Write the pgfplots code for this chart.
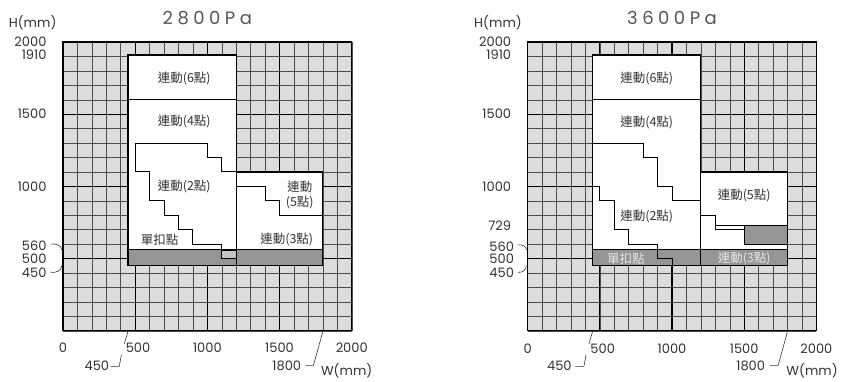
\documentclass[border=0pt]{standalone}
\usepackage{pgfplots}
\pgfplotsset{compat=1.18}
\usepackage{fontspec}
\setmainfont{Poppins}
\newfontfamily\cjk{Noto Sans CJK TC}
\definecolor{bggray}{HTML}{DCDCDC}
\definecolor{stripgray}{HTML}{959595}
\definecolor{boxgray}{HTML}{C4C4C4}
\definecolor{txt}{HTML}{333333}
\definecolor{ttl}{HTML}{555555}
\definecolor{lighttxt}{HTML}{E6E6E6}
\pgfplotsset{panel/.style={
  set layers=standard,
  axis on top=false,
  anchor=south west, width=289pt, height=289pt, scale only axis,
  xmin=0, xmax=2000, ymin=0, ymax=2000,
  xtick={0,500,...,2000}, ytick={0,500,...,2000},
  minor xtick={0,100,...,2000}, minor ytick={0,100,...,2000},
  grid=both,
  major grid style={draw=black, line width=1.25pt},
  minor grid style={draw=black!70, line width=0.45pt},
  xticklabels={}, yticklabels={},
  major tick length=0pt, minor tick length=0pt,
  axis background/.style={fill=bggray},
  axis line style={line width=1.1pt},
  clip=false,
}}
\tikzset{
  region/.style={fill=white, draw=black, line width=1.2pt},
  stepline/.style={draw=black, line width=0.9pt},
  num/.style={font=\fontsize{13}{15}\selectfont, text=txt},
  lab/.style={font=\cjk\fontsize{12.5}{15}\selectfont, text=txt},
  ttlst/.style={font=\addfontfeature{LetterSpace=25}\fontsize{18}{20}\selectfont, text=ttl},
  lead/.style={draw=txt, line width=0.6pt},
}
\begin{document}
\begin{tikzpicture}
\path (0,0) (841pt,381pt);
% ---------------- 2800 Pa ----------------
\begin{axis}[panel, at={(63pt,50pt)}]
\addplot[region] coordinates {(450,450) (1200,450) (1200,1910) (450,1910)} -- cycle;
\addplot[region] coordinates {(1200,450) (1800,450) (1800,1100) (1200,1100)} -- cycle;
\addplot[fill=stripgray, draw=black, line width=1.2pt] coordinates {(450,450) (1800,450) (1800,560) (450,560)} -- cycle;
\addplot[fill=boxgray, draw=black, line width=0.6pt] coordinates {(1100,500) (1200,500) (1200,560) (1100,560)} -- cycle;
\addplot[stepline] coordinates {(450,1600) (1200,1600)};
\addplot[stepline] coordinates {(500,1300) (1000,1300) (1000,1200) (1100,1200) (1100,1100) (1200,1100)};
\addplot[stepline] coordinates {(500,1300) (500,1100) (600,1100) (600,900) (700,900) (700,800) (800,800) (800,700) (900,700) (900,600) (1100,600) (1100,500) (1200,500)};
\addplot[stepline] coordinates {(1200,1000) (1400,1000) (1400,900) (1500,900) (1500,800) (1800,800)};
\addplot[draw=black, line width=1.2pt] coordinates {(1200,450) (1200,1910)};
\node[lab] at (axis cs:840,1750) {連動(6點)};
\node[lab] at (axis cs:840,1450) {連動(4點)};
\node[lab] at (axis cs:840,1000) {連動(2點)};
\node[lab] at (axis cs:670,630) {單扣點};
\node[lab] at (axis cs:1550,630) {連動(3點)};
\node[lab] at (axis cs:1640,1000) {連動};
\node[lab] at (axis cs:1640,885) {(5點)};
% y labels
\node[num, anchor=east] at (axis cs:-90,2005) {2000};
\node[num, anchor=east] at (axis cs:-90,1912) {1910};
\node[num, anchor=east] at (axis cs:-90,1500) {1500};
\node[num, anchor=east] at (axis cs:-90,1000) {1000};
\node[num, anchor=east] at (axis cs:-90,590) {560};
\node[num, anchor=east] at (axis cs:-90,500) {500};
\node[num, anchor=east] at (axis cs:-90,405) {450};
\draw[lead] (axis cs:-85,600) to[out=10,in=95] (axis cs:-8,560);
\draw[lead] (axis cs:-85,405) to[out=-10,in=-95] (axis cs:-8,450);
\node[num, anchor=south] at (axis cs:-210,2060) {H(mm)};
% x labels
\node[num] at (axis cs:0,-120) {0};
\node[num] at (axis cs:520,-120) {500};
\node[num] at (axis cs:1000,-120) {1000};
\node[num] at (axis cs:1500,-120) {1500};
\node[num] at (axis cs:2000,-120) {2000};
\node[num] at (axis cs:235,-245) {450};
\node[num] at (axis cs:1550,-245) {1800};
\node[num] at (axis cs:1965,-275) {W(mm)};
\draw[lead] (axis cs:450,-5) -- (axis cs:425,-90);
\draw[lead] (axis cs:405,-165) -- (axis cs:390,-247) -- (axis cs:330,-247);
\draw[lead] (axis cs:1800,-5) -- (axis cs:1735,-240) -- (axis cs:1680,-240);
\node[ttlst] at (axis cs:1000,2165) {2800Pa};
\end{axis}
% ---------------- 3600 Pa ----------------
\begin{axis}[panel, at={(528pt,50pt)}]
\addplot[region] coordinates {(450,450) (1200,450) (1200,1910) (450,1910)} -- cycle;
\addplot[region] coordinates {(1200,450) (1800,450) (1800,1100) (1200,1100)} -- cycle;
\addplot[fill=stripgray, draw=black, line width=1.2pt] coordinates {(450,450) (1800,450) (1800,560) (450,560)} -- cycle;
\addplot[fill=stripgray, draw=black, line width=0.9pt] coordinates {(1500,600) (1800,600) (1800,729) (1500,729)} -- cycle;
\addplot[stepline] coordinates {(450,1600) (1200,1600)};
\addplot[stepline] coordinates {(450,1300) (800,1300) (800,1200) (900,1200) (900,1000) (1000,1000) (1000,900) (1200,900)};
\addplot[stepline] coordinates {(450,1000) (500,1000) (500,900) (600,900) (600,700) (700,700) (700,600) (900,600) (900,500) (1000,500) (1000,450)};
\addplot[stepline] coordinates {(1200,800) (1300,800) (1300,700) (1500,700) (1500,600) (1800,600)};
\addplot[stepline] coordinates {(1300,729) (1800,729)};
\addplot[draw=black, line width=1.2pt] coordinates {(1200,450) (1200,1910)};
\node[lab] at (axis cs:825,1750) {連動(6點)};
\node[lab] at (axis cs:825,1440) {連動(4點)};
\node[lab] at (axis cs:825,790) {連動(2點)};
\node[lab, text=lighttxt] at (axis cs:680,500) {單扣點};
\node[lab, text=lighttxt] at (axis cs:1500,500) {連動(3點)};
\node[lab] at (axis cs:1500,940) {連動(5點)};
% y labels
\node[num, anchor=east] at (axis cs:-90,2005) {2000};
\node[num, anchor=east] at (axis cs:-90,1912) {1910};
\node[num, anchor=east] at (axis cs:-90,1500) {1500};
\node[num, anchor=east] at (axis cs:-90,1000) {1000};
\node[num, anchor=east] at (axis cs:-90,729) {729};
\node[num, anchor=east] at (axis cs:-70,585) {560};
\node[num, anchor=east] at (axis cs:-70,497) {500};
\node[num, anchor=east] at (axis cs:-70,405) {450};
\draw[lead] (axis cs:-65,595) to[out=10,in=95] (axis cs:-8,560);
\draw[lead] (axis cs:-65,405) to[out=-10,in=-95] (axis cs:-8,450);
\node[num, anchor=south] at (axis cs:-205,2060) {H(mm)};
% x labels
\node[num] at (axis cs:0,-125) {0};
\node[num] at (axis cs:520,-125) {500};
\node[num] at (axis cs:1000,-125) {1000};
\node[num] at (axis cs:1500,-125) {1500};
\node[num] at (axis cs:2000,-125) {2000};
\node[num] at (axis cs:220,-245) {450};
\node[num] at (axis cs:1545,-245) {1800};
\node[num] at (axis cs:1970,-275) {W(mm)};
\draw[lead] (axis cs:450,-5) -- (axis cs:425,-90);
\draw[lead] (axis cs:405,-165) -- (axis cs:390,-247) -- (axis cs:330,-247);
\draw[lead] (axis cs:1800,-5) -- (axis cs:1735,-240) -- (axis cs:1680,-240);
\node[ttlst] at (axis cs:1000,2165) {3600Pa};
\end{axis}
\end{tikzpicture}
\end{document}
